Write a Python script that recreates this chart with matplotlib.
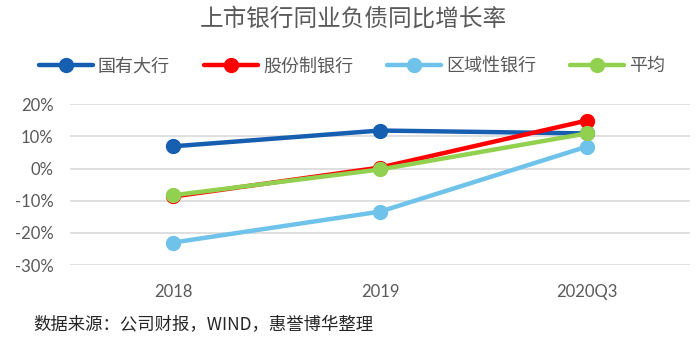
import matplotlib
matplotlib.use("Agg")
from matplotlib import pyplot as plt

plt.rcParams['font.family'] = ['Lato', 'Noto Sans CJK SC', 'DejaVu Sans']

# Data
categories = ['2018', '2019', '2020Q3']
series_names = ['国有大行', '股份制银行', '区域性银行', '平均']
state_banks = [6.9, 11.8, 10.9]
joint_stock = [-8.7, 0.3, 14.9]
regional = [-23.0, -13.4, 6.8]
average = [-8.3, -0.3, 10.9]
colors = ['#165FB0', '#FF0000', '#6FC2EA', '#92D050']
y_ticks = [-30, -20, -10, 0, 10, 20]

fig = plt.figure(figsize=(7, 3.46), dpi=100)
ax = fig.add_axes([0.1, 0.234, 0.886, 0.465])

x = range(len(categories))
for values, name, color in zip([state_banks, joint_stock, regional, average],
                               series_names, colors):
    ax.plot(x, values, color=color, linewidth=3.2, marker='o',
            markersize=10, label=name, solid_capstyle='round')

ax.set_xlim(-0.5, 2.5)
ax.set_ylim(-30, 20)
ax.set_yticks(y_ticks)
ax.set_yticklabels([f'{v}%' for v in y_ticks])
ax.set_xticks(list(x))
ax.set_xticklabels(categories)
ax.grid(axis='y', color='#D9D9D9', linewidth=1.2)
ax.set_axisbelow(True)
for side in ax.spines.values():
    side.set_visible(False)
ax.tick_params(axis='both', length=0, labelsize=12, colors='#595959')
ax.tick_params(axis='x', pad=14)
ax.tick_params(axis='y', pad=12)

fig.text(0.505, 0.945, '上市银行同业负债同比增长率', ha='center', va='center',
         fontsize=17, color='#595959', family=['Noto Sans CJK SC'])

leg = fig.legend(loc='center', bbox_to_anchor=(0.503, 0.808), ncol=4,
                 frameon=False, handlelength=3.0, columnspacing=1.9,
                 handletextpad=0.25, prop={'family': 'Noto Sans CJK SC', 'size': 13})
for t in leg.get_texts():
    t.set_color('#595959')

fig.text(0.048, 0.06, '数据来源：公司财报，WIND，惠誉博华整理', ha='left', va='center',
         fontsize=12.5, color='#262626', family=['Noto Sans CJK SC'])

fig.savefig('out.png', dpi=100)
